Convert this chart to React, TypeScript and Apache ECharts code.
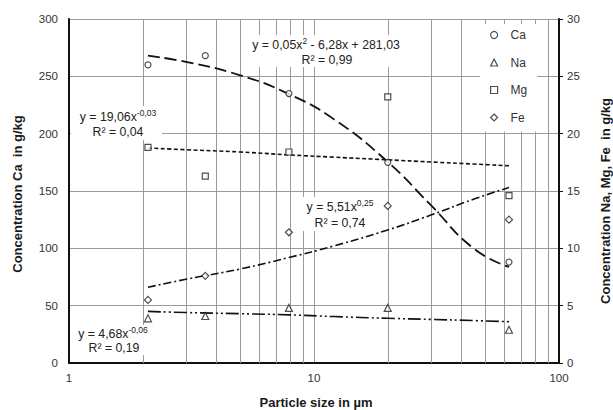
import React, { useEffect, useRef } from 'react';
import * as echarts from 'echarts';

// Measured points (particle size in µm)
const particleSizes = [2.1, 3.6, 7.9, 20, 62.5];
const caValues = [260, 268, 235, 175, 88];
const naValues = [3.9, 4.1, 4.8, 4.8, 2.9];
const mgValues = [18.8, 16.3, 18.4, 23.2, 14.6];
const feValues = [5.5, 7.6, 11.4, 13.7, 12.5];

// Trend lines
const trendX = [2.1, 3, 5, 7.9, 12, 20, 30, 45, 62.5];
const caTrend = [268, 262.6, 250.9, 234.5, 212.9, 175.4, 137.6, 99.6, 83.8];
const naTrend = [4.5, 4.4, 4.3, 4.2, 4.05, 3.9, 3.8, 3.7, 3.6];
const mgTrend = [18.75, 18.6, 18.4, 18.15, 17.95, 17.72, 17.53, 17.35, 17.2];
const feTrend = [6.6, 7.3, 8.2, 9.2, 10.2, 11.6, 12.9, 14.3, 15.3];

const minorGridX = [2, 3, 4, 5, 6, 7, 8, 9, 20, 30, 40, 50, 60, 70, 80, 90];

const seriesNames = ['Ca', 'Na', 'Mg', 'Fe'];
const seriesSymbols = ['circle', 'triangle', 'rect', 'diamond'];

const FONT = "'Liberation Sans', Arial, sans-serif";
const GZ = 50;

function measure(text: string, size: number): number {
  const c = document.createElement('canvas');
  const ctx = c.getContext('2d');
  if (!ctx) return text.length * size * 0.55;
  ctx.font = `${size}px 'Liberation Sans', Arial, sans-serif`;
  return ctx.measureText(text).width;
}

function eqLine(cx: number, cy: number, base: string, sup: string, sup2?: { after: string; text: string }) {
  const bs = 12.3;
  const ss = 8.5;
  const els: any[] = [];
  if (sup2) {
    const w1 = measure(base, bs);
    const w2 = measure(sup2.text, ss);
    const w3 = measure(sup2.after, bs);
    const left = cx - (w1 + w2 + w3) / 2;
    els.push({ type: 'text', x: left, y: cy, z: GZ + 1, style: { text: base, fontSize: bs, fontFamily: FONT, fill: '#222', verticalAlign: 'middle', align: 'left' } });
    els.push({ type: 'text', x: left + w1, y: cy - 4, z: GZ + 1, style: { text: sup2.text, fontSize: ss, fontFamily: FONT, fill: '#222', verticalAlign: 'middle', align: 'left' } });
    els.push({ type: 'text', x: left + w1 + w2, y: cy, z: GZ + 1, style: { text: sup2.after, fontSize: bs, fontFamily: FONT, fill: '#222', verticalAlign: 'middle', align: 'left' } });
    return els;
  }
  const wb = measure(base, bs);
  const ws = sup ? measure(sup, ss) : 0;
  const left = cx - (wb + ws) / 2;
  els.push({ type: 'text', x: left, y: cy, z: GZ + 1, style: { text: base, fontSize: bs, fontFamily: FONT, fill: '#222', verticalAlign: 'middle', align: 'left' } });
  if (sup) {
    els.push({ type: 'text', x: left + wb, y: cy - 4, z: GZ + 1, style: { text: sup, fontSize: ss, fontFamily: FONT, fill: '#222', verticalAlign: 'middle', align: 'left' } });
  }
  return els;
}

function whiteRect(x: number, y: number, w: number, h: number) {
  return { type: 'rect', shape: { x, y, width: w, height: h }, z: GZ, style: { fill: '#fff' } };
}

function title(text: string, x: number, y: number, rot: number) {
  return {
    type: 'text',
    x,
    y,
    rotation: rot,
    z: GZ + 1,
    style: { text, fontSize: 13, fontWeight: 'bold', fontFamily: FONT, fill: '#1a1a1a', align: 'center', verticalAlign: 'middle' },
  };
}

const App: React.FC = () => {
  const ref = useRef<HTMLDivElement>(null);

  useEffect(() => {
    if (!ref.current) return;
    const chart = echarts.init(ref.current, undefined, { renderer: 'svg' });

    const pts = (ys: number[]) => particleSizes.map((x, i) => [x, ys[i]]);
    const trend = (ys: number[]) => trendX.map((x, i) => [x, ys[i]]);
    const valuesList = [caValues, naValues, mgValues, feValues];
    const trendList = [caTrend, naTrend, mgTrend, feTrend];
    const dashes = [
      [12, 5],
      [13, 3, 2, 3, 2, 3],
      [4, 2.5],
      [8, 3, 2, 3],
    ];
    const symbolSizes = [6, 7, 6, 7];

    const scatterSeries = seriesNames.map((name, i) => ({
      name,
      type: 'scatter',
      yAxisIndex: i === 0 ? 0 : 1,
      symbol: seriesSymbols[i],
      symbolSize: symbolSizes[i],
      z: 6,
      itemStyle: { color: '#fff', borderColor: '#222', borderWidth: 1.2 },
      data: pts(valuesList[i]),
    }));

    const trendSeries = seriesNames.map((name, i) => ({
      name: name + ' trend',
      type: 'line',
      yAxisIndex: i === 0 ? 0 : 1,
      showSymbol: false,
      smooth: true,
      z: 5,
      lineStyle: { color: '#111', width: i === 0 ? 1.8 : 1.6, type: dashes[i] },
      data: trend(trendList[i]),
    }));

    const gridSeries = {
      name: 'grid',
      type: 'line',
      data: [],
      z: 1,
      silent: true,
      markLine: {
        silent: true,
        symbol: ['none', 'none'],
        label: { show: false },
        lineStyle: { color: '#9a9a9a', type: 'solid', width: 1 },
        data: minorGridX.map((v) => ({ xAxis: v })),
      },
    };

    const graphics: any[] = [
      whiteRect(247, 35, 160, 32),
      ...eqLine(326, 45, 'y = 0,05x', '', { text: '2', after: ' - 6,28x + 281,03' }),
      ...eqLine(327, 60, 'R² = 0,99', ''),
      whiteRect(71, 106, 91, 34),
      ...eqLine(118, 117, 'y = 19,06x', '-0,03'),
      ...eqLine(118, 132, 'R² = 0,04', ''),
      whiteRect(303, 197, 76, 34),
      ...eqLine(340, 207, 'y = 5,51x', '0,25'),
      ...eqLine(340, 223, 'R² = 0,74', ''),
      whiteRect(75, 325, 80, 30),
      ...eqLine(113, 334, 'y = 4,68x', '-0,06'),
      ...eqLine(114, 348, 'R² = 0,19', ''),
      title('Concentration Ca  in g/kg', 17, 194, Math.PI / 2),
      title('Concentration Na, Mg, Fe  in g/kg', 605, 201, Math.PI / 2),
      title('Particle size in µm', 316, 402, 0),
    ];

    chart.setOption({
      animation: false,
      backgroundColor: '#fff',
      textStyle: { fontFamily: FONT },
      grid: { left: 69, right: 54, top: 19, bottom: 47, containLabel: false },
      legend: {
        orient: 'vertical',
        left: 480,
        top: 24,
        itemWidth: 7,
        itemHeight: 7,
        itemGap: 15.5,
        padding: [5, 10, 8, 10],
        backgroundColor: '#fff',
        z: 10,
        textStyle: { fontSize: 12, color: '#333', fontFamily: FONT, padding: [0, 0, 0, 8] },
        data: seriesNames.map((n, i) => ({
          name: n,
          icon: seriesSymbols[i],
          itemStyle: { color: '#fff', borderColor: '#222', borderWidth: 1.2 },
        })),
      },
      xAxis: {
        type: 'log',
        logBase: 10,
        min: 1,
        max: 100,
        axisLine: { show: true, lineStyle: { color: '#111', width: 2 } },
        axisTick: { show: false },
        minorTick: { show: false },
        axisLabel: { fontSize: 11.5, color: '#333', margin: 9, fontFamily: FONT, showMinLabel: true, showMaxLabel: true },
        splitLine: { show: true, lineStyle: { color: '#9a9a9a', width: 1 } },
      },
      yAxis: [
        {
          type: 'value',
          min: 0,
          max: 300,
          interval: 50,
          axisLine: { show: true, lineStyle: { color: '#111', width: 2 } },
          axisTick: { show: false },
          axisLabel: { fontSize: 11.5, color: '#333', margin: 11, fontFamily: FONT },
          splitLine: { show: true, lineStyle: { color: '#9a9a9a', width: 1 } },
        },
        {
          type: 'value',
          position: 'right',
          min: 0,
          max: 30,
          interval: 5,
          axisLine: { show: true, lineStyle: { color: '#111', width: 2 } },
          axisTick: { show: true, inside: false, length: 4, lineStyle: { color: '#111', width: 1 } },
          axisLabel: { fontSize: 11.5, color: '#333', margin: 8, fontFamily: FONT },
          splitLine: { show: false },
        },
      ],
      graphic: { elements: graphics },
      series: [gridSeries, ...trendSeries, ...scatterSeries],
    });

    return () => chart.dispose();
  }, []);

  return <div ref={ref} style={{ width: 613, height: 410, position: 'absolute', left: 0, top: 0 }} />;
};

export default App;
